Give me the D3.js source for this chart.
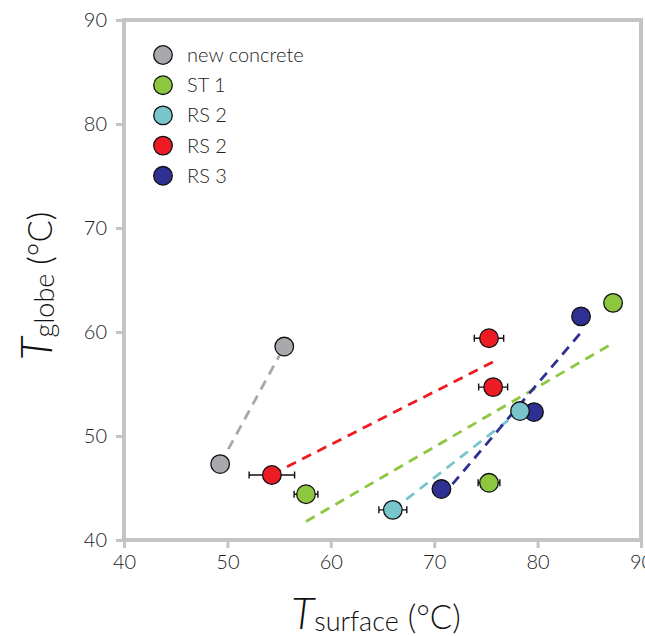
<!DOCTYPE html>
<html>
<head>
<meta charset="utf-8">
<script src="https://cdn.jsdelivr.net/npm/d3@7"></script>
<style>
  html, body { margin: 0; padding: 0; background: #fff; }
  svg { display: block; }
  .tick text { font-family: Lato, "Open Sans", sans-serif; font-weight: 300; }
</style>
</head>
<body>
<svg id="chart" width="645" height="636"></svg>
<script>
// Surface vs globe temperature, one group per surface type
const seriesNames  = ["new concrete", "ST 1", "RS 2", "RS 2", "RS 3"];
const seriesColors = ["#a7a9ac", "#8dc63f", "#79c5cc", "#ed1c24", "#2e3192"];

const concreteX = [49.3, 55.5];
const concreteY = [47.3, 58.6];
const concreteErr = [0, 0];

const st1X = [57.6, 75.3, 87.3];
const st1Y = [44.4, 45.5, 62.8];
const st1Err = [1.15, 1.05, 0];

const rs2aX = [66.0, 78.3];
const rs2aY = [42.9, 52.4];
const rs2aErr = [1.35, 0];

const rs2bX = [54.3, 75.3, 75.7];
const rs2bY = [46.25, 59.4, 54.7];
const rs2bErr = [2.2, 1.42, 1.4];

const rs3X = [70.7, 79.65, 84.2];
const rs3Y = [44.9, 52.3, 61.5];
const rs3Err = [0, 0, 0];

const xTicks = [40, 50, 60, 70, 80, 90];
const yTicks = [40, 50, 60, 70, 80, 90];

const groups = [
  { name: seriesNames[0], color: seriesColors[0], x: concreteX, y: concreteY, err: concreteErr },
  { name: seriesNames[1], color: seriesColors[1], x: st1X, y: st1Y, err: st1Err },
  { name: seriesNames[2], color: seriesColors[2], x: rs2aX, y: rs2aY, err: rs2aErr },
  { name: seriesNames[3], color: seriesColors[3], x: rs2bX, y: rs2bY, err: rs2bErr },
  { name: seriesNames[4], color: seriesColors[4], x: rs3X, y: rs3Y, err: rs3Err }
];
// stacking order of the markers (cyan sits above navy)
const drawOrder = [0, 1, 3, 4, 2];

const svg = d3.select("#chart");
const plotL = 124, plotR = 641, plotT = 20, plotB = 540;

const x = d3.scaleLinear().domain([40, 90]).range([plotL, plotR]);
const y = d3.scaleLinear().domain([40, 90]).range([plotB, plotT]);

const axisColor = "#c4c4c4";
const textColor = "#222";
const labelFont = "Lato, 'Open Sans', sans-serif";

// frame
svg.append("path")
  .attr("d", `M${plotL},${plotB}V${plotT}H${plotR}V${plotB}Z`)
  .attr("fill", "none").attr("stroke", axisColor).attr("stroke-width", 4);

const xAxis = svg.append("g").attr("transform", `translate(0,${plotB})`)
  .call(d3.axisBottom(x).tickValues(xTicks).tickSize(8).tickPadding(7));
const yAxis = svg.append("g").attr("transform", `translate(${plotL},0)`)
  .call(d3.axisLeft(y).tickValues(yTicks).tickSize(8).tickPadding(9));
[xAxis, yAxis].forEach(a => {
  a.select(".domain").remove();
  a.selectAll(".tick line").attr("stroke", axisColor).attr("stroke-width", 3);
  a.selectAll(".tick text").attr("fill", textColor).attr("font-size", 20);
});

// least-squares fit for each group, drawn dashed over its x span
function fit(xs, ys) {
  const mx = d3.mean(xs), my = d3.mean(ys);
  let sxy = 0, sxx = 0;
  xs.forEach((v, i) => { sxy += (v - mx) * (ys[i] - my); sxx += (v - mx) * (v - mx); });
  const b = sxy / sxx;
  return v => my + b * (v - mx);
}
const lineLayer = svg.append("g");
groups.forEach(g => {
  const f = fit(g.x, g.y);
  const [x0, x1] = d3.extent(g.x);
  lineLayer.append("line")
    .attr("x1", x(x0)).attr("y1", y(f(x0)))
    .attr("x2", x(x1)).attr("y2", y(f(x1)))
    .attr("stroke", g.color).attr("stroke-width", 2.8)
    .attr("stroke-dasharray", "10,7");
});

// error bars and markers
const pointLayer = svg.append("g");
drawOrder.forEach(k => {
  const g = groups[k];
  g.x.forEach((v, i) => {
    const e = g.err[i];
    if (e > 0) {
      const cy = y(g.y[i]);
      pointLayer.append("path")
        .attr("d", `M${x(v - e)},${cy}H${x(v + e)}M${x(v - e)},${cy - 3.5}V${cy + 3.5}M${x(v + e)},${cy - 3.5}V${cy + 3.5}`)
        .attr("stroke", "#111").attr("stroke-width", 1.4).attr("fill", "none");
    }
    pointLayer.append("circle")
      .attr("cx", x(v)).attr("cy", y(g.y[i])).attr("r", 9.3)
      .attr("fill", g.color).attr("stroke", "#111").attr("stroke-width", 1.3);
  });
});

// legend
const legend = svg.append("g").attr("transform", "translate(163,55)");
groups.forEach((g, i) => {
  const row = legend.append("g").attr("transform", `translate(0,${i * 30.2})`);
  row.append("circle").attr("r", 9.3).attr("fill", g.color)
    .attr("stroke", "#111").attr("stroke-width", 1.3);
  row.append("text").attr("x", 24).attr("y", 7)
    .attr("font-family", labelFont).attr("font-weight", 300)
    .attr("font-size", 20).attr("fill", textColor).text(g.name);
});

// axis titles
const xt = svg.append("text").attr("x", 376).attr("y", 629).attr("text-anchor", "middle")
  .attr("font-family", labelFont).attr("font-weight", 300).attr("fill", "#111");
xt.append("tspan").attr("font-size", 43).attr("font-style", "italic").text("T");
xt.append("tspan").attr("font-size", 27).attr("dy", 2).text("surface");
xt.append("tspan").attr("font-size", 33).attr("dy", -2).text(" (°C)");

const yt = svg.append("text").attr("transform", "translate(52,286) rotate(-90)")
  .attr("text-anchor", "middle")
  .attr("font-family", labelFont).attr("font-weight", 300).attr("fill", "#111");
yt.append("tspan").attr("font-size", 43).attr("font-style", "italic").text("T");
yt.append("tspan").attr("font-size", 27).attr("dy", 2).text("globe");
yt.append("tspan").attr("font-size", 33).attr("dy", -2).text(" (°C)");
</script>
</body>
</html>
